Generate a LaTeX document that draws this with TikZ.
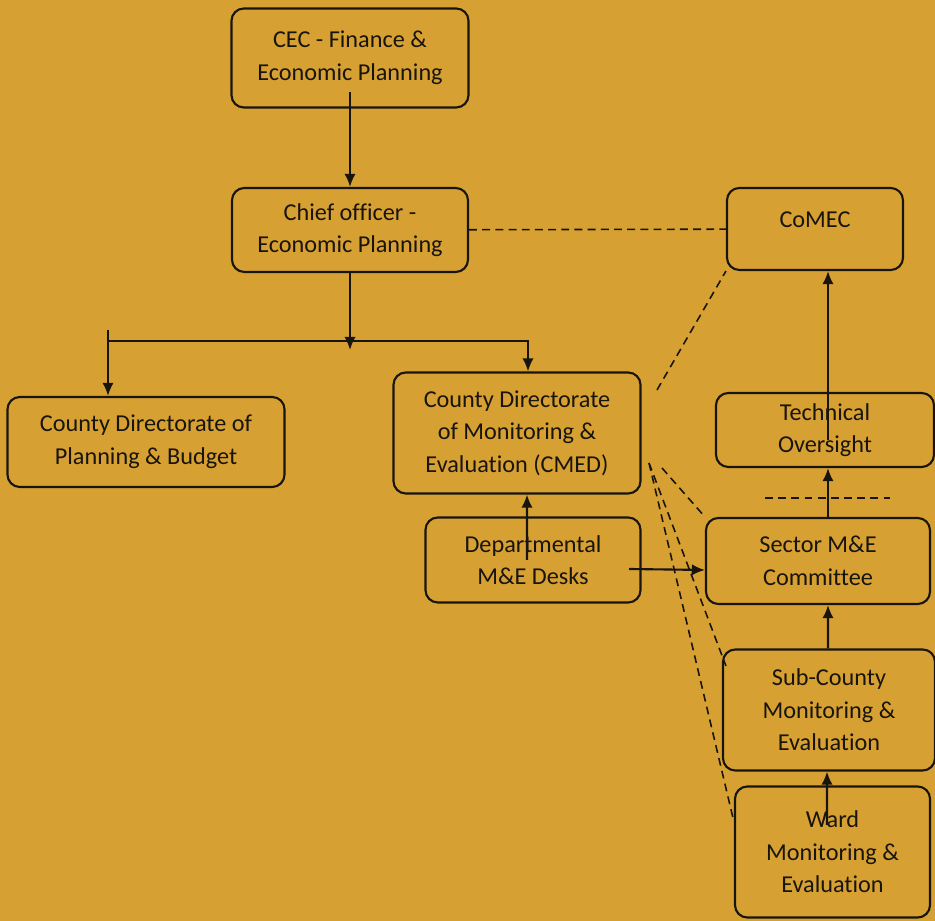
\documentclass[tikz,border=0pt]{standalone}
\usepackage{fontspec}
\setmainfont{Carlito}[Ligatures=NoCommon]
\usepackage{tikz}
\usetikzlibrary{shapes,arrows.meta}
\definecolor{paper}{RGB}{215,160,50}
\definecolor{ink}{RGB}{24,20,14}
\begin{document}
\begin{tikzpicture}[auto,>={Latex[length=7.5pt,width=6.5pt]},font=\fontsize{13.8}{18.5}\selectfont,color=ink]
	\tikzstyle{block} = [draw, shape=rectangle, rounded corners=7pt, align=center, line width=1.2pt, inner sep=2pt]
	\tikzstyle{link} = [line width=1.2pt]
	\tikzstyle{dotted link} = [line width=0.9pt, dash pattern=on 4.5pt off 3pt]
	%Paper Background
	\fill[paper] (0,0) rectangle (18.7,18.42);
	\useasboundingbox (0,0) rectangle (18.7,18.42);
	%Creating Blocks
	\node [block, minimum width=4.74cm, minimum height=1.98cm] at (7.0,17.26) (cec) {CEC - Finance \&\\Economic Planning};
	\node [block, minimum width=4.72cm, minimum height=1.68cm] at (7.0,13.82) (chief) {Chief officer -\\Economic Planning};
	\node [block, minimum width=3.52cm, minimum height=1.64cm, text depth=0.37cm] at (16.3,13.84) (comec) {CoMEC};
	\node [block, minimum width=5.54cm, minimum height=1.8cm] at (2.92,9.58) (plan) {County Directorate of\\Planning \& Budget};
	\node [block, minimum width=4.94cm, minimum height=2.42cm] at (10.34,9.76) (cmed) {County Directorate\\of Monitoring \&\\Evaluation (CMED)};
	\node [block, minimum width=4.3cm, minimum height=1.7cm] at (10.66,7.22) (dept) {Departmental\\M\&E Desks};
	\node [block, minimum width=4.36cm, minimum height=1.48cm] at (16.5,9.82) (tech) {Technical\\Oversight};
	\node [block, minimum width=4.48cm, minimum height=1.72cm] at (16.36,7.2) (sector) {Sector M\&E\\Committee};
	\node [block, minimum width=4.24cm, minimum height=2.42cm] at (16.58,4.22) (sub) {Sub-County\\Monitoring \&\\Evaluation};
	\node [block, minimum width=3.9cm, minimum height=2.62cm] at (16.65,1.38) (ward) {Ward\\Monitoring \&\\Evaluation};
	%Connection Points
	\coordinate (split) at (7.0,11.42);
	\coordinate (bus) at (2.16,11.6);
	\coordinate (stub) at (2.16,11.82);
	\coordinate (cmedtip) at (13.14,10.62);
	\coordinate (fanA) at (13.24,9.06);
	\coordinate (fanB) at (12.98,9.16);
	\coordinate (sepL) at (15.3,8.46);
	\coordinate (sepR) at (17.8,8.46);
	%Conecting Blocks
	\begin{scope}[link]
	\draw[->] ([yshift=-0.68cm]cec.center) -- (chief);
	\draw[->] (chief) -- (split);
	\draw[->] (stub) -- (stub |- plan.north);
	\draw[->] (bus) -| ([xshift=0.22cm]cmed.north);
	\draw[->] ([xshift=-0.12cm]dept.center) -- ([xshift=0.2cm]cmed.south);
	\draw[->] ([shift={(-0.25,-0.18)}]dept.east) -- ([yshift=-0.18cm]sector.west);
	\draw[->] ([xshift=0.2cm]sector.north) -- ([xshift=0.06cm]tech.south);
	\draw[->] ([shift={(0.06,-0.2)}]tech.center) -- ([xshift=0.26cm]comec.south);
	\draw[->] ([xshift=-0.02cm]sub.north) -- ([xshift=0.2cm]sector.south);
	\draw[->] ([shift={(-0.11,0.54)}]ward.center) -- ([xshift=-0.04cm]sub.south);
	\end{scope}
	\begin{scope}[dotted link]
	\draw (chief) -- (comec);
	\draw (cmedtip) -- (comec.south west);
	\draw (fanA) -- (sector.north west);
	\draw (fanB) -- ([shift={(0.08,-0.35)}]sub.north west);
	\draw (fanB) -- ([yshift=0.6cm]ward.west);
	\draw (sepL) -- (sepR);
	\end{scope}
\end{tikzpicture}
\end{document}
